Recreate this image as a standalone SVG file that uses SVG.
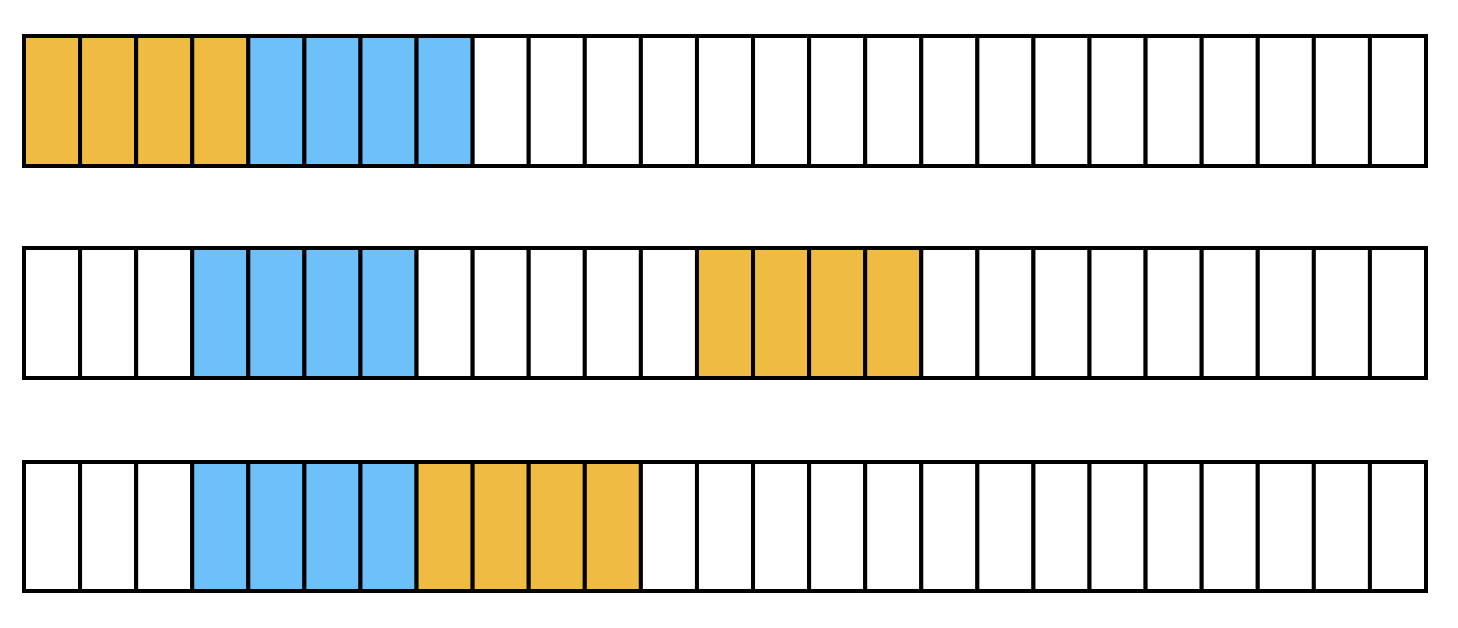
<svg xmlns="http://www.w3.org/2000/svg" width="1458" height="628" viewBox="0 0 1458 628">
<style>
rect.c{stroke:#000;stroke-width:4;fill:#fff}
rect.y{fill:#f0bb42}
rect.b{fill:#6ec0fa}
</style>
<rect width="1458" height="628" fill="#fff"/>
<g id="row1">
<rect class="c y" x="24" y="36" width="56.08" height="130"/>
<rect class="c y" x="80.08" y="36" width="56.08" height="130"/>
<rect class="c y" x="136.16" y="36" width="56.08" height="130"/>
<rect class="c y" x="192.24" y="36" width="56.08" height="130"/>
<rect class="c b" x="248.32" y="36" width="56.08" height="130"/>
<rect class="c b" x="304.4" y="36" width="56.08" height="130"/>
<rect class="c b" x="360.48" y="36" width="56.08" height="130"/>
<rect class="c b" x="416.56" y="36" width="56.08" height="130"/>
<rect class="c" x="472.64" y="36" width="56.08" height="130"/>
<rect class="c" x="528.72" y="36" width="56.08" height="130"/>
<rect class="c" x="584.8" y="36" width="56.08" height="130"/>
<rect class="c" x="640.88" y="36" width="56.08" height="130"/>
<rect class="c" x="696.96" y="36" width="56.08" height="130"/>
<rect class="c" x="753.04" y="36" width="56.08" height="130"/>
<rect class="c" x="809.12" y="36" width="56.08" height="130"/>
<rect class="c" x="865.2" y="36" width="56.08" height="130"/>
<rect class="c" x="921.28" y="36" width="56.08" height="130"/>
<rect class="c" x="977.36" y="36" width="56.08" height="130"/>
<rect class="c" x="1033.44" y="36" width="56.08" height="130"/>
<rect class="c" x="1089.52" y="36" width="56.08" height="130"/>
<rect class="c" x="1145.6" y="36" width="56.08" height="130"/>
<rect class="c" x="1201.68" y="36" width="56.08" height="130"/>
<rect class="c" x="1257.76" y="36" width="56.08" height="130"/>
<rect class="c" x="1313.84" y="36" width="56.08" height="130"/>
<rect class="c" x="1369.92" y="36" width="56.08" height="130"/>
</g>
<g id="row2">
<rect class="c" x="24" y="248" width="56.08" height="130"/>
<rect class="c" x="80.08" y="248" width="56.08" height="130"/>
<rect class="c" x="136.16" y="248" width="56.08" height="130"/>
<rect class="c b" x="192.24" y="248" width="56.08" height="130"/>
<rect class="c b" x="248.32" y="248" width="56.08" height="130"/>
<rect class="c b" x="304.4" y="248" width="56.08" height="130"/>
<rect class="c b" x="360.48" y="248" width="56.08" height="130"/>
<rect class="c" x="416.56" y="248" width="56.08" height="130"/>
<rect class="c" x="472.64" y="248" width="56.08" height="130"/>
<rect class="c" x="528.72" y="248" width="56.08" height="130"/>
<rect class="c" x="584.8" y="248" width="56.08" height="130"/>
<rect class="c" x="640.88" y="248" width="56.08" height="130"/>
<rect class="c y" x="696.96" y="248" width="56.08" height="130"/>
<rect class="c y" x="753.04" y="248" width="56.08" height="130"/>
<rect class="c y" x="809.12" y="248" width="56.08" height="130"/>
<rect class="c y" x="865.2" y="248" width="56.08" height="130"/>
<rect class="c" x="921.28" y="248" width="56.08" height="130"/>
<rect class="c" x="977.36" y="248" width="56.08" height="130"/>
<rect class="c" x="1033.44" y="248" width="56.08" height="130"/>
<rect class="c" x="1089.52" y="248" width="56.08" height="130"/>
<rect class="c" x="1145.6" y="248" width="56.08" height="130"/>
<rect class="c" x="1201.68" y="248" width="56.08" height="130"/>
<rect class="c" x="1257.76" y="248" width="56.08" height="130"/>
<rect class="c" x="1313.84" y="248" width="56.08" height="130"/>
<rect class="c" x="1369.92" y="248" width="56.08" height="130"/>
</g>
<g id="row3">
<rect class="c" x="24" y="462" width="56.08" height="129"/>
<rect class="c" x="80.08" y="462" width="56.08" height="129"/>
<rect class="c" x="136.16" y="462" width="56.08" height="129"/>
<rect class="c b" x="192.24" y="462" width="56.08" height="129"/>
<rect class="c b" x="248.32" y="462" width="56.08" height="129"/>
<rect class="c b" x="304.4" y="462" width="56.08" height="129"/>
<rect class="c b" x="360.48" y="462" width="56.08" height="129"/>
<rect class="c y" x="416.56" y="462" width="56.08" height="129"/>
<rect class="c y" x="472.64" y="462" width="56.08" height="129"/>
<rect class="c y" x="528.72" y="462" width="56.08" height="129"/>
<rect class="c y" x="584.8" y="462" width="56.08" height="129"/>
<rect class="c" x="640.88" y="462" width="56.08" height="129"/>
<rect class="c" x="696.96" y="462" width="56.08" height="129"/>
<rect class="c" x="753.04" y="462" width="56.08" height="129"/>
<rect class="c" x="809.12" y="462" width="56.08" height="129"/>
<rect class="c" x="865.2" y="462" width="56.08" height="129"/>
<rect class="c" x="921.28" y="462" width="56.08" height="129"/>
<rect class="c" x="977.36" y="462" width="56.08" height="129"/>
<rect class="c" x="1033.44" y="462" width="56.08" height="129"/>
<rect class="c" x="1089.52" y="462" width="56.08" height="129"/>
<rect class="c" x="1145.6" y="462" width="56.08" height="129"/>
<rect class="c" x="1201.68" y="462" width="56.08" height="129"/>
<rect class="c" x="1257.76" y="462" width="56.08" height="129"/>
<rect class="c" x="1313.84" y="462" width="56.08" height="129"/>
<rect class="c" x="1369.92" y="462" width="56.08" height="129"/>
</g>
</svg>
